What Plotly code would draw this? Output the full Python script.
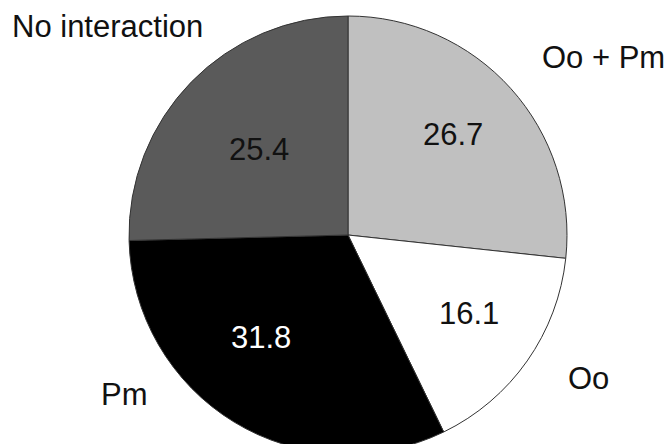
import plotly.graph_objects as go

categories = ["Oo + Pm", "Oo", "Pm", "No interaction"]
values = [26.7, 16.1, 31.8, 25.4]
colors = ["#c0c0c0", "#ffffff", "#000000", "#5a5a5a"]
text_colors = ["#111111", "#111111", "#ffffff", "#111111"]

W, H = 669, 460
cx, cy, r = 348, 235, 219
FONT = "Liberation Sans, Arial"

fig = go.Figure(go.Pie(
    labels=categories,
    values=values,
    sort=False,
    direction="clockwise",
    rotation=0,
    marker=dict(colors=colors, line=dict(color="#333333", width=1)),
    textinfo="none",
    hoverinfo="skip",
    showlegend=False,
    domain=dict(x=[(cx - r) / W, (cx + r) / W], y=[(H - cy - r) / H, (H - cy + r) / H]),
))

# text positions (pixel centres) for value labels and category labels
value_pos = [(453, 134), (469, 313), (261, 337), (259, 149)]
label_pos = [(603, 58), (588, 378), (124, 394), (107, 27)]

for name, val, tc, (vx, vy), (lx, ly) in zip(categories, values, text_colors, value_pos, label_pos):
    fig.add_annotation(text=f"{val}", x=vx / W, y=1 - vy / H, xref="paper", yref="paper",
                       showarrow=False, xanchor="center", yanchor="middle",
                       font=dict(size=31, color=tc, family=FONT))
    fig.add_annotation(text=name, x=lx / W, y=1 - ly / H, xref="paper", yref="paper",
                       showarrow=False, xanchor="center", yanchor="middle",
                       font=dict(size=31, color="#111111", family=FONT))

fig.update_layout(
    width=W, height=H,
    margin=dict(l=0, r=0, t=0, b=0),
    paper_bgcolor="white", plot_bgcolor="white",
)

fig.write_html("out.html", config={"displayModeBar": False},
               post_script="document.body.style.margin='0';document.body.style.overflow='hidden';")
